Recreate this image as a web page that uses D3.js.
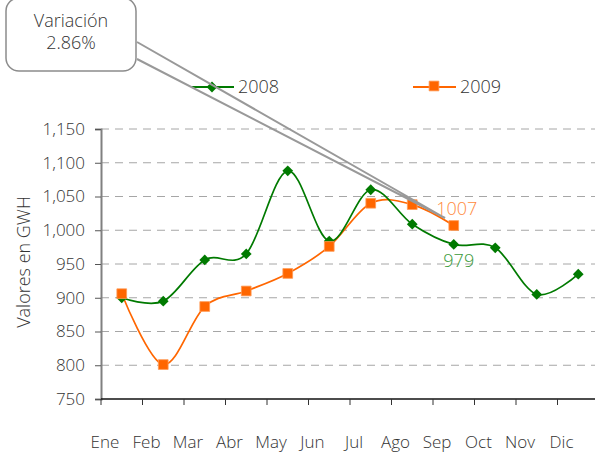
<!DOCTYPE html>
<html>
<head>
<meta charset="utf-8">
<script src="https://cdn.jsdelivr.net/npm/d3@7"></script>
<style>
  body { margin: 0; background: #fff; }
  svg { display: block; font-family: "Open Sans", sans-serif; font-weight: 300; }
</style>
</head>
<body>
<svg id="chart"></svg>
<script>
// data
const months = ['Ene', 'Feb', 'Mar', 'Abr', 'May', 'Jun', 'Jul', 'Ago', 'Sep', 'Oct', 'Nov', 'Dic'];
const values2008 = [900, 895, 956, 965, 1088, 984, 1060, 1009, 979, 974, 905, 935];
const values2009 = [906, 801, 887, 910, 936, 976, 1040, 1038, 1007];
const yTicks = [750, 800, 850, 900, 950, 1000, 1050, 1100, 1150];
const seriesNames = ['2008', '2009'];
const calloutText = ['Variación', '2.86%'];

const width = 595, height = 453;
const margin = {top: 129, right: -4, bottom: 54, left: 101};

const green = '#007a00', orange = '#ff6600';

const svg = d3.select('#chart')
    .attr('width', width)
    .attr('height', height);

const x = d3.scaleBand()
    .domain(months)
    .range([margin.left, width - margin.right]);

const y = d3.scaleLinear()
    .domain([750, 1150])
    .range([height - margin.bottom, margin.top]);

const fmt = d3.format(',');

// gridlines (dashed)
svg.append('g')
    .selectAll('line')
    .data(yTicks.filter(d => d > 750))
    .join('line')
    .attr('x1', margin.left)
    .attr('x2', width)
    .attr('y1', d => y(d))
    .attr('y2', d => y(d))
    .attr('stroke', '#a6a6a6')
    .attr('stroke-width', 1)
    .attr('stroke-dasharray', '8,6');

// y axis
const yAxis = svg.append('g')
    .attr('transform', `translate(${margin.left},0)`)
    .call(d3.axisLeft(y).tickValues(yTicks).tickFormat(fmt).tickSize(6).tickPadding(10));
yAxis.select('.domain').attr('stroke', '#808080').attr('stroke-width', 2);
yAxis.selectAll('.tick line').attr('stroke', '#555');
yAxis.selectAll('text')
    .attr('fill', '#333')
    .style('font-size', '17px')
    .style('font-family', '"Open Sans", sans-serif');

// x axis: ticks on category boundaries
const xAxis = svg.append('g')
    .attr('transform', `translate(0,${y(750)})`);
xAxis.append('line')
    .attr('x1', margin.left)
    .attr('x2', width)
    .attr('stroke', '#111')
    .attr('stroke-width', 1.5);
xAxis.selectAll('.tk')
    .data(months)
    .join('line')
    .attr('class', 'tk')
    .attr('x1', d => x(d))
    .attr('x2', d => x(d))
    .attr('y1', 0)
    .attr('y2', 6)
    .attr('stroke', '#333');
xAxis.selectAll('text')
    .data(months)
    .join('text')
    .attr('x', d => x(d) + 4)
    .attr('y', 49)
    .attr('text-anchor', 'middle')
    .attr('fill', '#333')
    .style('font-size', '17px')
    .text(d => d);

// y axis title
svg.append('text')
    .attr('transform', `translate(30,262) rotate(-90)`)
    .attr('text-anchor', 'middle')
    .attr('fill', '#333')
    .style('font-size', '18px')
    .text('Valores en GWH');

const cx = (d, i) => x(months[i]) + x.bandwidth() / 2;

const line = d3.line()
    .x(cx)
    .y(d => y(d))
    .curve(d3.curveCatmullRom.alpha(0));

// 2009 series
svg.append('path')
    .datum(values2009)
    .attr('d', line)
    .attr('fill', 'none')
    .attr('stroke', orange)
    .attr('stroke-width', 1.7);

// 2008 series
svg.append('path')
    .datum(values2008)
    .attr('d', line)
    .attr('fill', 'none')
    .attr('stroke', green)
    .attr('stroke-width', 1.7);

const diamond = d3.symbol().type(d3.symbolSquare).size(58);
const square = d3.symbol().type(d3.symbolSquare).size(95);

svg.append('g')
    .selectAll('path')
    .data(values2008)
    .join('path')
    .attr('d', diamond)
    .attr('transform', (d, i) => `translate(${cx(d, i)},${y(d)}) rotate(45)`)
    .attr('fill', green);

svg.append('g')
    .selectAll('path')
    .data(values2009)
    .join('path')
    .attr('d', square)
    .attr('transform', (d, i) => `translate(${cx(d, i)},${y(d)})`)
    .attr('fill', orange)
    .attr('stroke', '#ff9a55')
    .attr('stroke-width', 0.8);

// value labels
const last09 = values2009.length - 1;
svg.append('text')
    .attr('x', cx(values2009[last09], last09) + 3)
    .attr('y', y(values2009[last09]) - 11)
    .attr('text-anchor', 'middle')
    .attr('fill', '#ff8a3d')
    .style('font-size', '18px')
    .text(values2009[last09]);
svg.append('text')
    .attr('x', cx(values2008[8], 8) + 5)
    .attr('y', y(values2008[8]) + 23)
    .attr('text-anchor', 'middle')
    .attr('fill', '#3a9a3a')
    .style('font-size', '18px')
    .text(values2008[8]);

// legend
const legend = svg.append('g');
const legendItems = [
    {name: seriesNames[0], x0: 191, color: green, sym: 'd'},
    {name: seriesNames[1], x0: 413, color: orange, sym: 's'}
];
legendItems.forEach(it => {
    const g = legend.append('g').attr('transform', `translate(${it.x0},87)`);
    g.append('line').attr('x1', 0).attr('x2', 43).attr('stroke', it.color).attr('stroke-width', 1.8);
    if (it.sym === 'd') {
        g.append('path').attr('d', diamond).attr('transform', 'translate(21,0) rotate(45)').attr('fill', it.color);
    } else {
        g.append('path').attr('d', square).attr('transform', 'translate(21,-1)')
            .attr('fill', it.color).attr('stroke', '#ff9a55').attr('stroke-width', 0.8);
    }
    g.append('text')
        .attr('x', 47)
        .attr('y', 6)
        .attr('fill', '#333')
        .style('font-size', '18px')
        .text(it.name);
});

// callout
const callout = svg.append('g');
callout.append('path')
    .attr('d', 'M137,42 L445,218 L137,59')
    .attr('fill', 'none')
    .attr('stroke', '#999')
    .attr('stroke-width', 2);
callout.append('rect')
    .attr('x', 6)
    .attr('y', -2)
    .attr('width', 130)
    .attr('height', 73)
    .attr('rx', 13)
    .attr('fill', '#fff')
    .attr('stroke', '#8c8c8c')
    .attr('stroke-width', 1.5);
callout.selectAll('text.ct')
    .data(calloutText)
    .join('text')
    .attr('class', 'ct')
    .attr('x', 71)
    .attr('y', (d, i) => 27 + i * 22)
    .attr('text-anchor', 'middle')
    .attr('fill', '#333')
    .style('font-size', '18px')
    .text(d => d);
</script>
</body>
</html>
